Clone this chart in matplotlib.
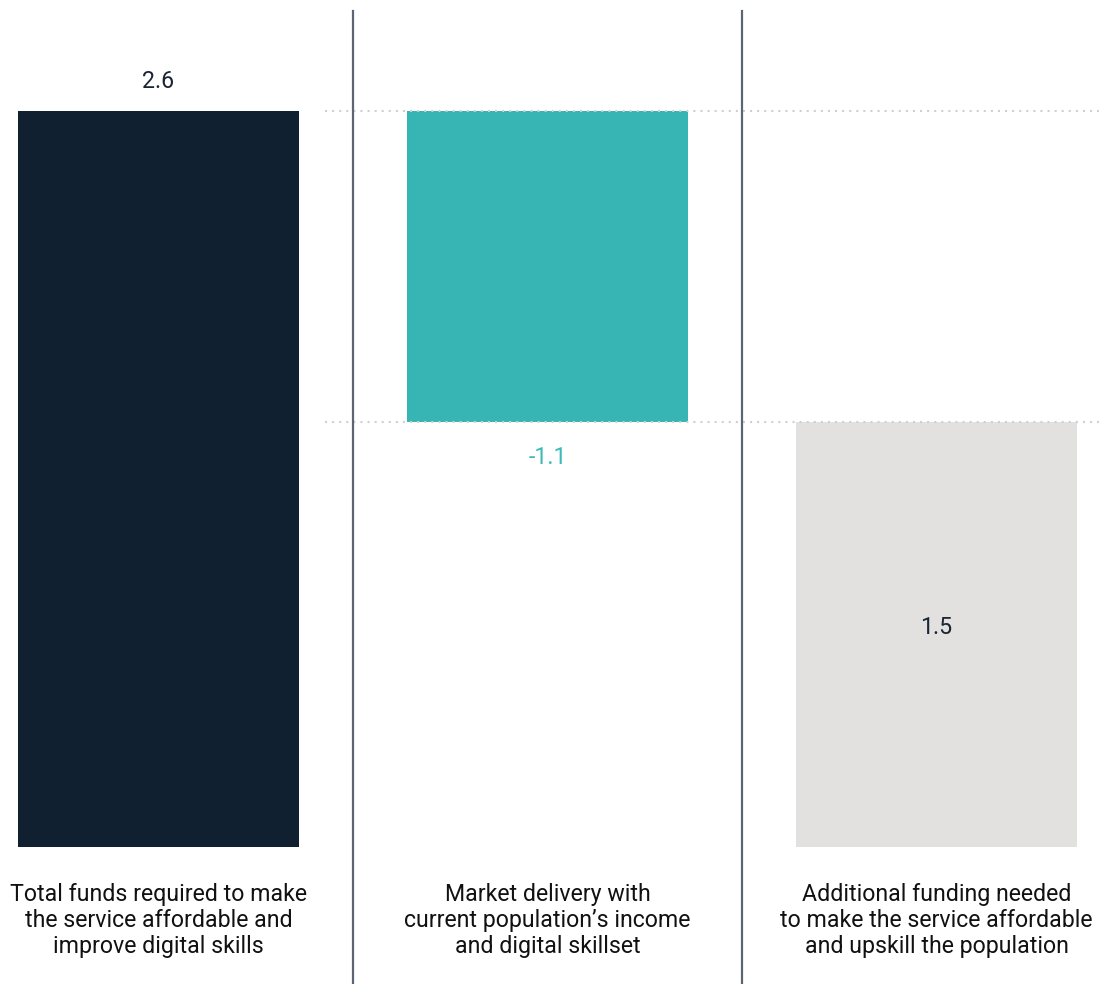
import matplotlib
matplotlib.use("Agg")
import matplotlib.pyplot as plt

categories = [
    "Total funds required to make\nthe service affordable and\nimprove digital skills",
    "Market delivery with\ncurrent population\u2019s income\nand digital skillset",
    "Additional funding needed\nto make the service affordable\nand upskill the population",
]
changes = [2.6, -1.1, 1.5]
value_labels = ["2.6", "-1.1", "1.5"]
bar_colors = ["#112031", "#36b5b4", "#e2e1df"]
label_colors = ["#1a2433", "#3dbab8", "#1a2433"]

# waterfall bases
total = changes[0]
market = changes[1]
remaining = total + market
bottoms = [0, remaining, 0]
heights = [total, -market, remaining]

plt.rcParams["font.family"] = ["Roboto", "DejaVu Sans"]

fig = plt.figure(figsize=(10.99, 9.84), dpi=100)
ax = fig.add_axes([0, 0, 1, 1])
ax.set_xlim(-0.4075, 2.4177)
ax.set_ylim(-0.484, 2.992)
ax.axis("off")

x = list(range(len(categories)))
ax.bar(x, heights, bottom=bottoms, width=0.7224, color=bar_colors, zorder=2)

# dotted guide lines
for lvl in [total, remaining]:
    ax.plot([0.428, 2.4177], [lvl, lvl], linestyle=(0, (1, 2.4)), color="#d0d0d0",
            linewidth=1.5, zorder=3, dash_capstyle="butt")

# separators
for sx in [0.5, 1.5]:
    ax.axvline(sx, ymin=0, ymax=1 - 11 / 984, color="#5c6670", linewidth=1.6, zorder=4)

fs = 16.7
# value labels
ax.annotate(value_labels[0], (0, total), xytext=(0, 21), textcoords="offset points",
            ha="center", va="center", fontsize=fs, color=label_colors[0])
ax.annotate(value_labels[1], (1, remaining), xytext=(0, -25.5), textcoords="offset points",
            ha="center", va="center", fontsize=fs, color=label_colors[1])
ax.annotate(value_labels[2], (2, remaining / 2), xytext=(0, 5), textcoords="offset points",
            ha="center", va="center", fontsize=fs, color=label_colors[2])

# category labels
for xi, cat in zip(x, categories):
    ax.annotate(cat, (xi, 0), xytext=(0, -53), textcoords="offset points",
                ha="center", va="center", fontsize=fs, color="#111111", linespacing=1.17)

fig.savefig("out.png", dpi=100)
